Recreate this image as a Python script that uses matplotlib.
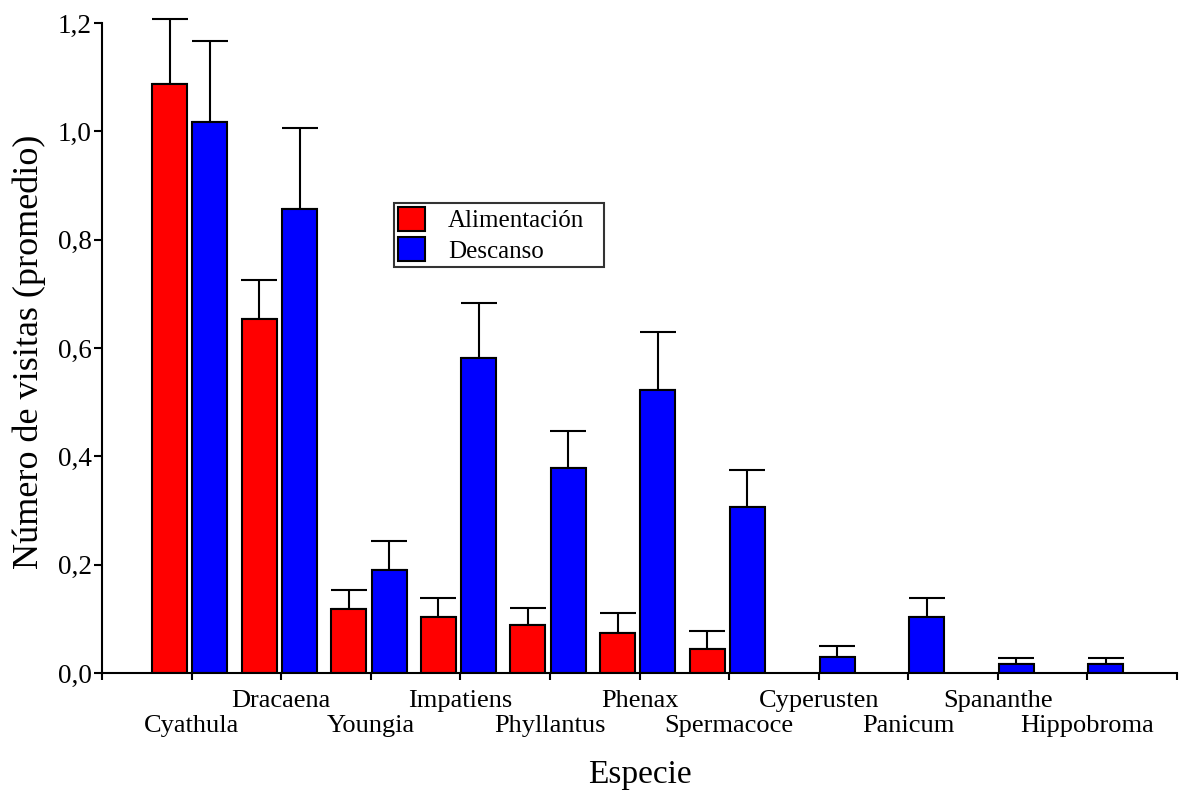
import numpy as np
import matplotlib
matplotlib.use("Agg")
import matplotlib.pyplot as plt
from matplotlib.ticker import FuncFormatter

plt.rcParams['font.family'] = ['Liberation Serif', 'DejaVu Serif']

# data
species = ["Cyathula", "Dracaena", "Youngia", "Impatiens", "Phyllantus", "Phenax",
           "Spermacoce", "Cyperusten", "Panicum", "Spananthe", "Hippobroma"]
alimentacion = [1.088, 0.653, 0.119, 0.103, 0.088, 0.073, 0.045,
                np.nan, np.nan, np.nan, np.nan]
alimentacion_err = [0.119, 0.073, 0.035, 0.035, 0.032, 0.038, 0.032,
                    np.nan, np.nan, np.nan, np.nan]
descanso = [1.017, 0.856, 0.190, 0.581, 0.378, 0.523, 0.307, 0.030, 0.103, 0.017, 0.017]
descanso_err = [0.150, 0.150, 0.054, 0.103, 0.069, 0.106, 0.068, 0.019, 0.035, 0.011, 0.011]

x = np.arange(len(species))
width = 0.39

fig = plt.figure(figsize=(11.83, 7.94), dpi=100)
ax = fig.add_axes([102 / 1183, 121 / 794, 1075 / 1183, 650 / 794])

ax.bar(x - 0.245, alimentacion, width, color='#FF0000', edgecolor='black',
       linewidth=1.5, label='Alimentación', zorder=2)
ax.bar(x + 0.205, descanso, width, color='#0000FF', edgecolor='black',
       linewidth=1.5, label='Descanso', zorder=2)

# upper error bars only
a = np.array(alimentacion)
ae = np.array(alimentacion_err)
ax.errorbar(x - 0.245, a, yerr=[np.zeros_like(ae), ae], fmt='none', ecolor='black',
            elinewidth=1.5, capsize=13, capthick=1.5, zorder=1, clip_on=False)
d = np.array(descanso)
de = np.array(descanso_err)
ax.errorbar(x + 0.205, d, yerr=[np.zeros_like(de), de], fmt='none', ecolor='black',
            elinewidth=1.5, capsize=13, capthick=1.5, zorder=1, clip_on=False)

ax.set_xlim(-1, len(species))
ax.set_ylim(0, 1.2)
ax.set_yticks(np.arange(0, 1.21, 0.2))
ax.yaxis.set_major_formatter(FuncFormatter(lambda v, p: f"{v:.1f}".replace('.', ',')))
ax.set_xticks(np.arange(-1, len(species) + 1))
ax.set_xticklabels([])

for s in ['top', 'right']:
    ax.spines[s].set_visible(False)
for s in ['left', 'bottom']:
    ax.spines[s].set_linewidth(1.5)
ax.tick_params(axis='y', direction='out', length=6, width=1.5, pad=1.5, labelsize=19.5)
ax.tick_params(axis='x', direction='out', length=5, width=1.5)

# staggered species labels
for i, name in enumerate(species):
    off = -24.5 if i % 2 == 1 else -42.5
    ax.annotate(name, xy=(i, 0), xycoords=('data', 'axes fraction'),
                xytext=(0, off), textcoords='offset points',
                ha='center', va='baseline', fontsize=19)

fig.text(639.5 / 1183, 1 - 783 / 794, 'Especie', ha='center', va='baseline', fontsize=24)
fig.text(29 / 1183, 1 - 352 / 794, 'Número de visitas (promedio)', rotation=90,
         ha='center', va='center', fontsize=26)

leg = ax.legend(loc='upper left', bbox_to_anchor=(394 / 1183, 1 - 268 / 794, 210 / 1183, 65 / 794),
                bbox_transform=fig.transFigure, mode='expand', fontsize=18,
                frameon=True, fancybox=False, borderpad=0.15, borderaxespad=0,
                handlelength=1.1, handleheight=1.1, handletextpad=0.9, labelspacing=0.2)
leg.get_frame().set_edgecolor('black')
leg.get_frame().set_linewidth(1.5)

fig.savefig('out.png', dpi=100)
